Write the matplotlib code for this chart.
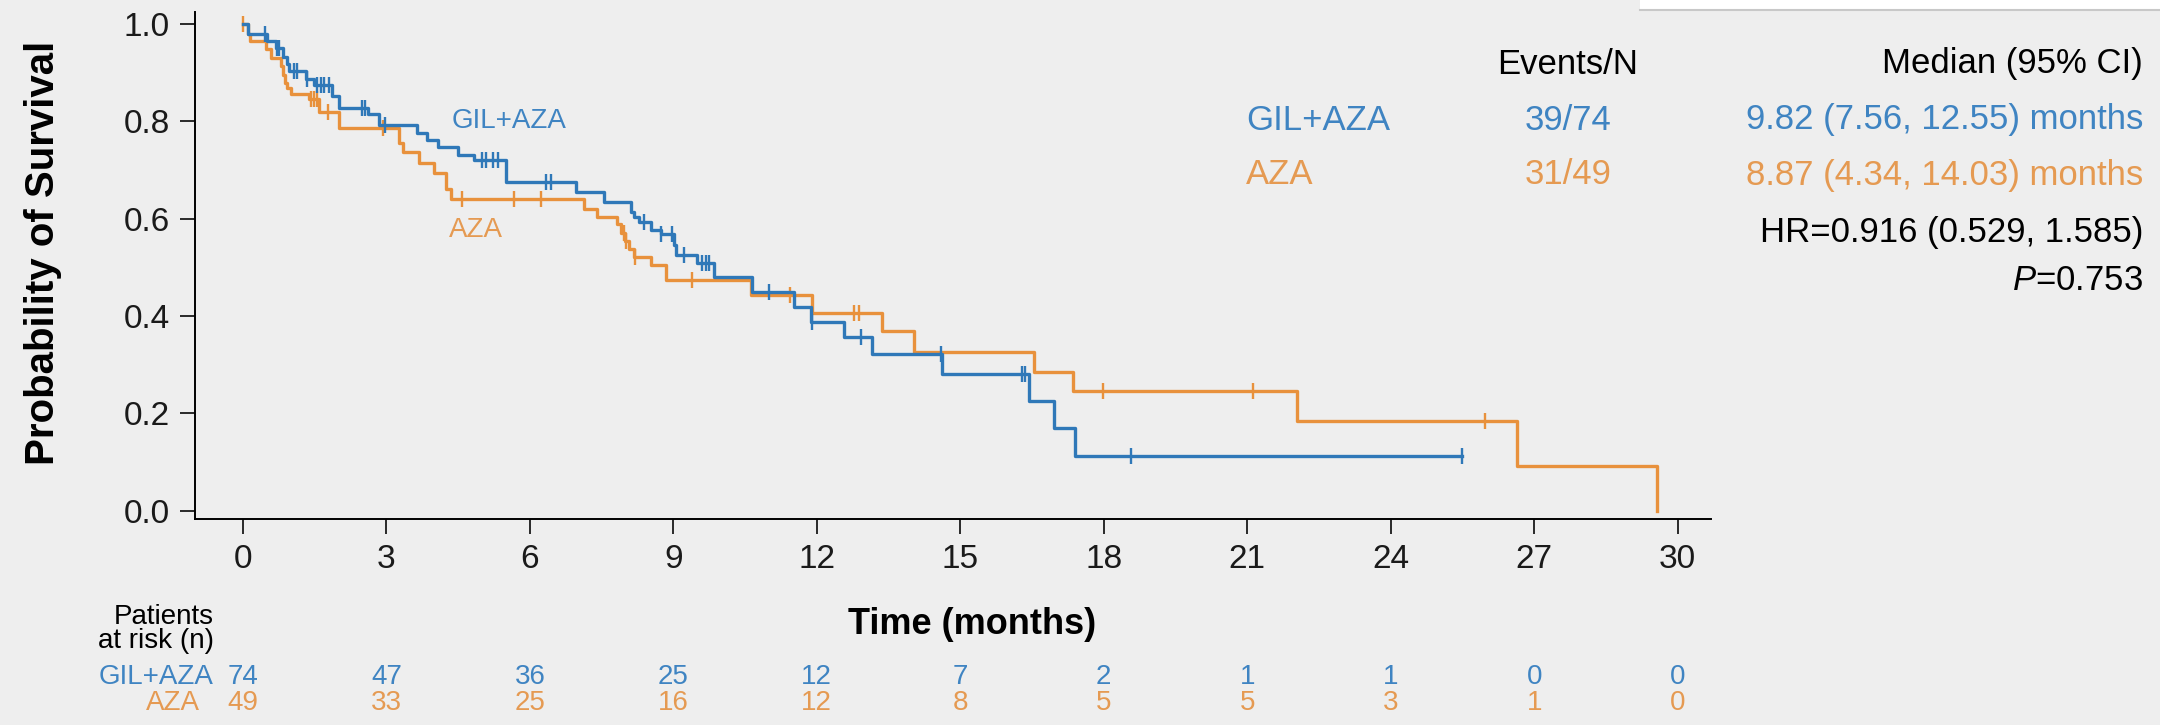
import numpy as np
import matplotlib.pyplot as plt
import matplotlib.transforms as mtransforms
from matplotlib.patches import Rectangle
from matplotlib.lines import Line2D

plt.rcParams["font.family"] = ["Liberation Sans", "DejaVu Sans"]
plt.rcParams["mathtext.fontset"] = "custom"
plt.rcParams["mathtext.rm"] = "Liberation Sans"
plt.rcParams["mathtext.it"] = "Liberation Sans:italic"

# Kaplan-Meier steps (months, survival after the step)
gil_t = [0, 0.10, 0.50, 0.70, 0.83, 0.93, 0.97, 1.32, 1.49, 1.87, 2.01, 2.61, 2.85,
         3.65, 3.86, 4.07, 4.49, 4.83, 5.50, 6.96, 7.55, 8.11, 8.18, 8.28, 8.53, 8.74,
         9.01, 9.05, 9.50, 9.85, 10.65, 11.52, 11.87, 12.57, 13.16, 14.62, 16.43,
         16.95, 17.40, 25.5]
gil_s = [1.0, 0.980, 0.965, 0.950, 0.932, 0.918, 0.904, 0.887, 0.875, 0.852, 0.828,
         0.814, 0.793, 0.776, 0.762, 0.748, 0.731, 0.720, 0.676, 0.655, 0.634, 0.614,
         0.604, 0.594, 0.577, 0.569, 0.546, 0.525, 0.508, 0.480, 0.450, 0.419, 0.388,
         0.357, 0.322, 0.281, 0.226, 0.170, 0.113, 0.113]
gil_cens = [0.46, 0.72, 0.76, 1.07, 1.14, 1.35, 1.56, 1.63, 1.70, 1.80, 2.49, 2.56,
            2.98, 4.99, 5.09, 5.23, 5.33, 6.34, 6.45, 8.39, 8.74, 8.98, 9.22, 9.61,
            9.68, 9.75, 11.0, 11.91, 12.92, 14.6, 16.29, 16.35, 18.57, 25.5]

aza_t = [0, 0.10, 0.15, 0.48, 0.59, 0.79, 0.83, 0.88, 0.93, 1.00, 1.39, 1.60, 2.01,
         3.27, 3.34, 3.68, 4.00, 4.24, 4.35, 7.13, 7.41, 7.83, 7.90, 7.98, 8.07, 8.18,
         8.53, 8.84, 10.62, 11.91, 13.37, 14.03, 16.54, 17.35, 22.05, 26.65, 29.57]
aza_s = [1.0, 0.980, 0.965, 0.948, 0.930, 0.913, 0.895, 0.878, 0.868, 0.855, 0.845,
         0.818, 0.787, 0.756, 0.736, 0.714, 0.693, 0.660, 0.640, 0.620, 0.604, 0.588,
         0.571, 0.555, 0.538, 0.522, 0.505, 0.474, 0.444, 0.406, 0.369, 0.326, 0.286,
         0.247, 0.184, 0.092, 0.0]
aza_cens = [0.0, 1.42, 1.49, 1.55, 1.79, 2.93, 4.59, 5.67, 6.23, 7.97, 8.02, 8.20,
            9.40, 11.45, 12.78, 12.88, 17.98, 21.12, 25.97]

risk_times = [0, 3, 6, 9, 12, 15, 18, 21, 24, 27, 30]
gil_risk = [74, 47, 36, 25, 12, 7, 2, 1, 1, 0, 0]
aza_risk = [49, 33, 25, 16, 12, 8, 5, 5, 3, 1, 0]

blue = "#2f78b8"
orange = "#e8913c"
blue_txt = "#3f84c2"
orange_txt = "#e59a52"
bg = "#eeeeee"

W, H = 2160, 725


def px(x, y):
    # pixel position (from top-left) -> figure fraction
    return x / W, 1 - y / H


fig = plt.figure(figsize=(21.6, 7.25), dpi=100, facecolor=bg)
ax = fig.add_axes([0.0903, 0.284, 0.7019, 0.700])
ax.set_facecolor(bg)


def km(ax, t, s, cens, color):
    ax.step(t, s, where="post", color=color, lw=2.4)
    idx = np.searchsorted(np.array(t), cens, side="right") - 1
    ax.plot(cens, np.array(s)[idx], ls="none", marker="|", ms=11, mew=1.7, color=color)


km(ax, aza_t, aza_s, aza_cens, orange)
km(ax, gil_t, gil_s, gil_cens, blue)

ax.set_xlim(-1.0, 30.7)
ax.set_ylim(-0.017, 1.025)
ax.set_xticks(risk_times)
yt = np.arange(0, 1.01, 0.2)
ax.set_yticks(yt)
ax.set_yticklabels([f"{v:.1f}" for v in yt])
for sp in ["top", "right"]:
    ax.spines[sp].set_visible(False)
for sp in ["left", "bottom"]:
    ax.spines[sp].set_linewidth(1.4)
ax.tick_params(length=11, width=1.3, labelsize=24, pad=7, colors="#1a1a1a")

ax.text(4.37, 0.80, "GIL+AZA", color=blue_txt, fontsize=20, va="center", ha="left")
ax.text(4.30, 0.577, "AZA", color=orange_txt, fontsize=20, va="center", ha="left")

# axis titles
fig.text(*px(43, 253), "Probability of Survival", rotation=90, fontsize=29,
         fontweight="bold", ha="center", va="center")
fig.text(*px(972, 624), "Time (months)", fontsize=26, fontweight="bold",
         ha="center", va="center")

# number at risk table
fig.text(*px(214, 629), "Patients\nat risk (n)", fontsize=20, ha="right",
         va="center", multialignment="right", linespacing=0.95)
fig.text(*px(213, 677), "GIL+AZA", fontsize=20, color=blue_txt, ha="right", va="center")
fig.text(*px(200, 703), "AZA", fontsize=20, color=orange_txt, ha="right", va="center")
tr = mtransforms.blended_transform_factory(ax.transData, fig.transFigure)
for t, g, a in zip(risk_times, gil_risk, aza_risk):
    ax.text(t, px(0, 677)[1], str(g), transform=tr, fontsize=20, color=blue_txt,
            ha="center", va="center", clip_on=False)
    ax.text(t, px(0, 703)[1], str(a), transform=tr, fontsize=20, color=orange_txt,
            ha="center", va="center", clip_on=False)

# right-hand summary
fig.text(*px(1568, 64), "Events/N", fontsize=25, ha="center", va="center")
fig.text(*px(2143, 64), "Median (95% CI)", fontsize=25, ha="right", va="center")
fig.text(*px(1246, 120), "GIL+AZA", fontsize=25, color=blue_txt, ha="left", va="center")
fig.text(*px(1568, 120), "39/74", fontsize=25, color=blue_txt, ha="center", va="center")
fig.text(*px(2143, 120), "9.82 (7.56, 12.55) months", fontsize=25, color=blue_txt,
         ha="right", va="center")
fig.text(*px(1246, 175), "AZA", fontsize=25, color=orange_txt, ha="left", va="center")
fig.text(*px(1568, 175), "31/49", fontsize=25, color=orange_txt, ha="center", va="center")
fig.text(*px(2143, 175), "8.87 (4.34, 14.03) months", fontsize=25, color=orange_txt,
         ha="right", va="center")
fig.text(*px(2143, 232), "HR=0.916 (0.529, 1.585)", fontsize=25, ha="right", va="center")
fig.text(*px(2143, 281), r"$\mathit{P}$=0.753", fontsize=25, ha="right", va="center")

# screenshot edge at the top right
x0, y0 = px(1640, 10)
fig.patches.append(Rectangle((x0, y0), 1 - x0, 1 - y0, transform=fig.transFigure,
                             facecolor="white", edgecolor="none"))
fig.lines.append(Line2D([x0, 1], [y0, y0], transform=fig.transFigure,
                        color="#c8c8c8", lw=1.5))

fig.savefig("out.png", dpi=100, facecolor=bg)
